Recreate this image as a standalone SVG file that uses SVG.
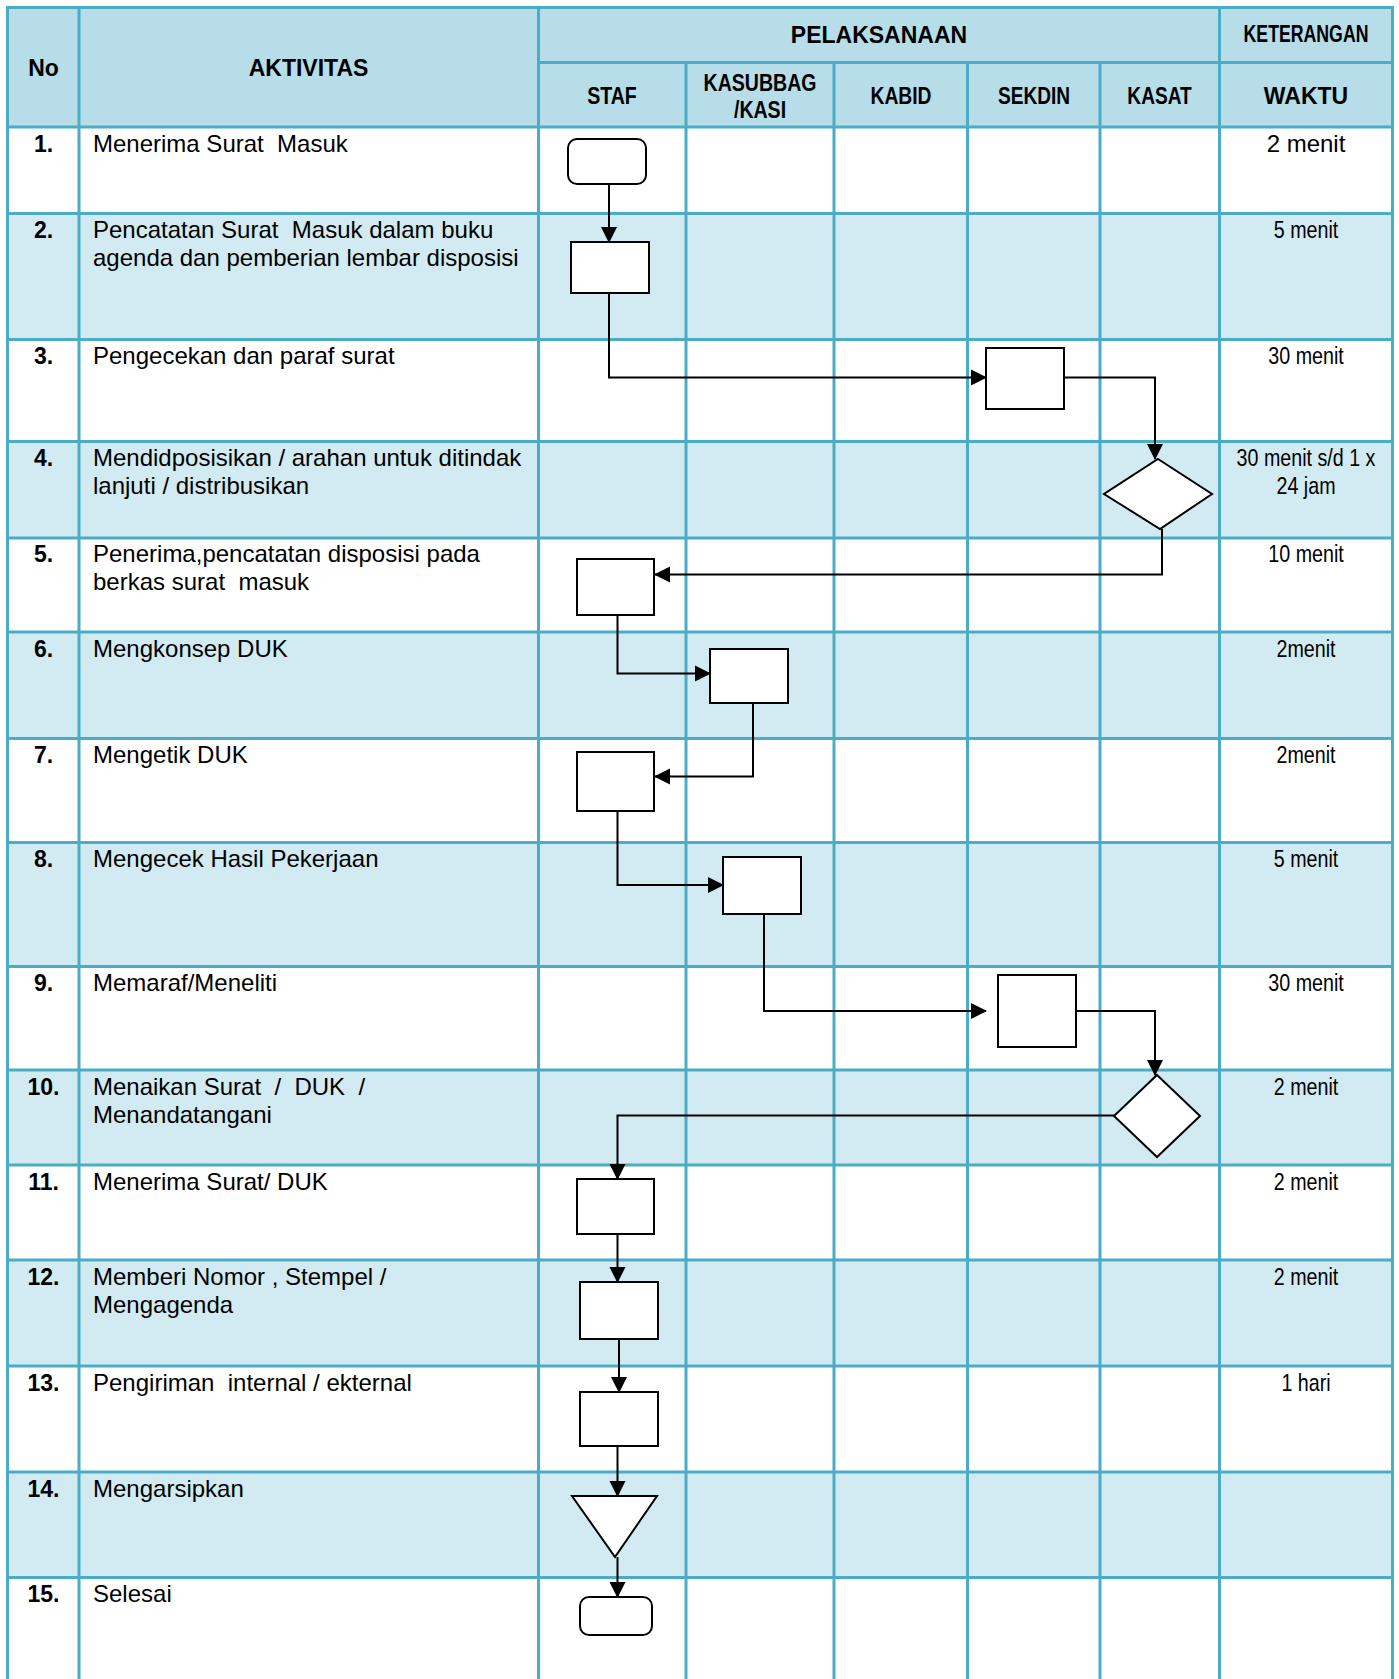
<svg xmlns="http://www.w3.org/2000/svg" width="1399" height="1679" viewBox="0 0 1399 1679">
<style>
.hdr{fill:#B6DDE8}
.sh{fill:#D2EAF1}
.wh{fill:#FFFFFF}
.gl{stroke:#4BACC6;stroke-width:3;fill:none}
.hb{font-family:"Liberation Sans",Arial,sans-serif;font-weight:bold;font-size:23px;fill:#000;text-anchor:middle}
.num{font-family:"Liberation Sans",Arial,sans-serif;font-weight:bold;font-size:23px;fill:#000;text-anchor:middle}
.act{font-family:"Liberation Sans",Arial,sans-serif;font-size:24px;fill:#000;white-space:pre}
.wt{font-family:"Liberation Sans",Arial,sans-serif;font-size:24px;fill:#000;text-anchor:middle}
.node{fill:#FFFFFF;stroke:#000;stroke-width:2}
.conn{fill:none;stroke:#000;stroke-width:2}
</style>
<defs>
<marker id="arr" markerUnits="userSpaceOnUse" markerWidth="17" markerHeight="17" refX="15" refY="8.5" orient="auto">
<path d="M0,0.5 L16,8.5 L0,16.5 z" fill="#000"/>
</marker>
</defs>
<rect x="0" y="0" width="1399" height="1679" fill="#FFFFFF"/>
<g id="table">
<rect class="hdr" x="7.5" y="7.5" width="1385" height="120"/>
<rect class="wh" x="7.5" y="127" width="1385" height="86.5"/>
<rect class="sh" x="7.5" y="213.5" width="1385" height="126"/>
<rect class="wh" x="7.5" y="339.5" width="1385" height="102"/>
<rect class="sh" x="7.5" y="441.5" width="1385" height="96.5"/>
<rect class="wh" x="7.5" y="538" width="1385" height="94"/>
<rect class="sh" x="7.5" y="632" width="1385" height="106.5"/>
<rect class="wh" x="7.5" y="738.5" width="1385" height="104"/>
<rect class="sh" x="7.5" y="842.5" width="1385" height="124"/>
<rect class="wh" x="7.5" y="966.5" width="1385" height="103.5"/>
<rect class="sh" x="7.5" y="1070" width="1385" height="95"/>
<rect class="wh" x="7.5" y="1165" width="1385" height="95"/>
<rect class="sh" x="7.5" y="1260" width="1385" height="106"/>
<rect class="wh" x="7.5" y="1366" width="1385" height="106"/>
<rect class="sh" x="7.5" y="1472" width="1385" height="105.5"/>
<rect class="wh" x="7.5" y="1577.5" width="1385" height="102"/>
<path class="gl" d="M7.5,7.5 H1392.5 M538.5,62.5 H1392.5 M7.5,127 H1392.5 M7.5,213.5 H1392.5 M7.5,339.5 H1392.5 M7.5,441.5 H1392.5 M7.5,538 H1392.5 M7.5,632 H1392.5 M7.5,738.5 H1392.5 M7.5,842.5 H1392.5 M7.5,966.5 H1392.5 M7.5,1070 H1392.5 M7.5,1165 H1392.5 M7.5,1260 H1392.5 M7.5,1366 H1392.5 M7.5,1472 H1392.5 M7.5,1577.5 H1392.5"/>
<path class="gl" d="M7.5,6 V1679 M79,6 V1679 M538.5,6 V1679 M1219.5,6 V1679 M1392.5,6 V1679 M686,62.5 V1679 M834,62.5 V1679 M967.5,62.5 V1679 M1100,62.5 V1679"/>
</g>
<g id="header">
<text class="hb" x="43.5" y="76" font-size="22">No</text>
<text class="hb" x="308.5" y="76">AKTIVITAS</text>
<text class="hb" x="879" y="43">PELAKSANAAN</text>
<text class="hb" transform="translate(1306,42) scale(0.77,1)" font-size="21">KETERANGAN</text>
<text class="hb" transform="translate(612,104) scale(0.85,1)">STAF</text>
<text class="hb" transform="translate(760,90.5) scale(0.85,1)">KASUBBAG</text>
<text class="hb" transform="translate(760,118) scale(0.85,1)">/KASI</text>
<text class="hb" transform="translate(901,104) scale(0.84,1)">KABID</text>
<text class="hb" transform="translate(1034,104) scale(0.83,1)">SEKDIN</text>
<text class="hb" transform="translate(1159.5,104) scale(0.83,1)">KASAT</text>
<text class="hb" x="1306" y="104">WAKTU</text>
</g>
<g id="numbers">
<text class="num" x="43.5" y="152">1.</text>
<text class="num" x="43.5" y="238">2.</text>
<text class="num" x="43.5" y="364">3.</text>
<text class="num" x="43.5" y="466">4.</text>
<text class="num" x="43.5" y="562">5.</text>
<text class="num" x="43.5" y="657">6.</text>
<text class="num" x="43.5" y="763">7.</text>
<text class="num" x="43.5" y="867">8.</text>
<text class="num" x="43.5" y="991">9.</text>
<text class="num" x="43.5" y="1095">10.</text>
<text class="num" x="43.5" y="1190">11.</text>
<text class="num" x="43.5" y="1285">12.</text>
<text class="num" x="43.5" y="1391">13.</text>
<text class="num" x="43.5" y="1497">14.</text>
<text class="num" x="43.5" y="1602">15.</text>
</g>
<g id="activities">
<text class="act" x="93" y="152">Menerima Surat  Masuk</text>
<text class="act" x="93" y="238">Pencatatan Surat  Masuk dalam buku</text>
<text class="act" x="93" y="266">agenda dan pemberian lembar disposisi</text>
<text class="act" x="93" y="364">Pengecekan dan paraf surat</text>
<text class="act" x="93" y="466">Mendidposisikan / arahan untuk ditindak</text>
<text class="act" x="93" y="494">lanjuti / distribusikan</text>
<text class="act" x="93" y="562">Penerima,pencatatan disposisi pada</text>
<text class="act" x="93" y="590">berkas surat  masuk</text>
<text class="act" x="93" y="657">Mengkonsep DUK</text>
<text class="act" x="93" y="763">Mengetik DUK</text>
<text class="act" x="93" y="867">Mengecek Hasil Pekerjaan</text>
<text class="act" x="93" y="991">Memaraf/Meneliti</text>
<text class="act" x="93" y="1095">Menaikan Surat  /  DUK  /</text>
<text class="act" x="93" y="1123">Menandatangani</text>
<text class="act" x="93" y="1190">Menerima Surat/ DUK</text>
<text class="act" x="93" y="1285">Memberi Nomor , Stempel /</text>
<text class="act" x="93" y="1313">Mengagenda</text>
<text class="act" x="93" y="1391">Pengiriman  internal / ekternal</text>
<text class="act" x="93" y="1497">Mengarsipkan</text>
<text class="act" x="93" y="1602">Selesai</text>
</g>
<g id="waktu">
<text class="wt" x="1306" y="152">2 menit</text>
<text class="wt" transform="translate(1306,238) scale(0.82,1)">5 menit</text>
<text class="wt" transform="translate(1306,364) scale(0.82,1)">30 menit</text>
<text class="wt" transform="translate(1306,466) scale(0.82,1)">30 menit s/d 1 x</text>
<text class="wt" transform="translate(1306,494) scale(0.82,1)">24 jam</text>
<text class="wt" transform="translate(1306,562) scale(0.82,1)">10 menit</text>
<text class="wt" transform="translate(1306,657) scale(0.82,1)">2menit</text>
<text class="wt" transform="translate(1306,763) scale(0.82,1)">2menit</text>
<text class="wt" transform="translate(1306,867) scale(0.82,1)">5 menit</text>
<text class="wt" transform="translate(1306,991) scale(0.82,1)">30 menit</text>
<text class="wt" transform="translate(1306,1095) scale(0.82,1)">2 menit</text>
<text class="wt" transform="translate(1306,1190) scale(0.82,1)">2 menit</text>
<text class="wt" transform="translate(1306,1285) scale(0.82,1)">2 menit</text>
<text class="wt" transform="translate(1306,1391) scale(0.82,1)">1 hari</text>
</g>
<g id="connectors">
<path class="conn" marker-end="url(#arr)" d="M609,184 V242"/>
<path class="conn" marker-end="url(#arr)" d="M609,293 V377.5 H986"/>
<path class="conn" marker-end="url(#arr)" d="M1065,377.5 H1155 V459"/>
<path class="conn" marker-end="url(#arr)" d="M1162,529 V574.5 H655"/>
<path class="conn" marker-end="url(#arr)" d="M617.5,615 V673.5 H710"/>
<path class="conn" marker-end="url(#arr)" d="M753,703 V776.5 H655"/>
<path class="conn" marker-end="url(#arr)" d="M617.5,811 V885 H723"/>
<path class="conn" marker-end="url(#arr)" d="M764,914 V1011 H986"/>
<path class="conn" marker-end="url(#arr)" d="M1076,1011 H1155 V1075"/>
<path class="conn" marker-end="url(#arr)" d="M1114,1115.5 H617.5 V1179"/>
<path class="conn" marker-end="url(#arr)" d="M617.5,1234 V1282"/>
<path class="conn" marker-end="url(#arr)" d="M619,1339 V1392"/>
<path class="conn" marker-end="url(#arr)" d="M617.5,1446 V1496"/>
<path class="conn" marker-end="url(#arr)" d="M617.5,1557 V1597"/>
</g>
<g id="n1"><rect class="node" x="568" y="139" width="78" height="45" rx="9"/></g>
<g id="n2"><rect class="node" x="571" y="242" width="78" height="51"/></g>
<g id="n3"><rect class="node" x="986" y="348" width="78" height="61"/></g>
<g id="n4"><polygon class="node" points="1158,459 1212,494 1160,529 1104,494"/></g>
<g id="n5"><rect class="node" x="577" y="559" width="77" height="56"/></g>
<g id="n6"><rect class="node" x="710" y="649" width="78" height="54"/></g>
<g id="n7"><rect class="node" x="577" y="752" width="77" height="59"/></g>
<g id="n8"><rect class="node" x="723" y="857" width="78" height="57"/></g>
<g id="n9"><rect class="node" x="998" y="975" width="78" height="72"/></g>
<g id="n10"><polygon class="node" points="1157,1075 1200,1116 1157,1157 1114,1116"/></g>
<g id="n11"><rect class="node" x="577" y="1179" width="77" height="55"/></g>
<g id="n12"><rect class="node" x="580" y="1282" width="78" height="57"/></g>
<g id="n13"><rect class="node" x="580" y="1392" width="78" height="54"/></g>
<g id="n14"><polygon class="node" points="572,1496 657,1496 615,1557"/></g>
<g id="n15"><rect class="node" x="580" y="1597" width="72" height="38" rx="9"/></g>
</svg>
